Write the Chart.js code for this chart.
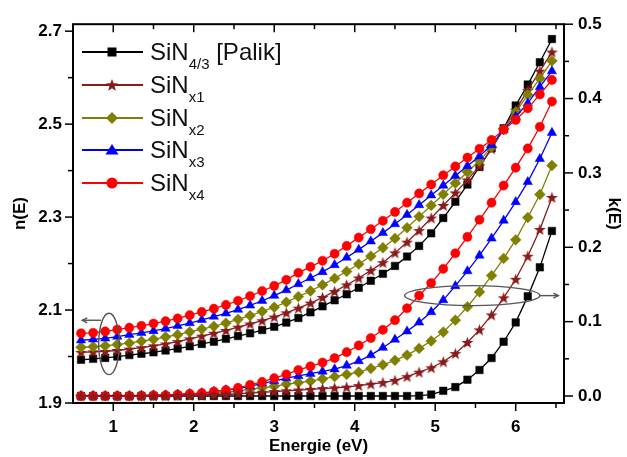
<!DOCTYPE html>
<html>
<head>
<meta charset="utf-8">
<script src="https://cdn.jsdelivr.net/npm/chart.js@4.4.1/dist/chart.umd.min.js"></script>
<style>
  html, body { margin: 0; padding: 0; background: #fff; }
  #wrap { position: relative; width: 627px; height: 457px; }
  #legend { position: absolute; left: 82px; top: 42px; font-family: "Liberation Sans", Arial, sans-serif; color: #111; }
  .row { position: absolute; left: 0; height: 24px; width: 260px; }
  .row svg { position: absolute; left: 0; top: 0; }
  .row .txt { position: absolute; left: 68px; top: -2px; font-size: 24px; line-height: 24px; white-space: pre; }
  .row .txt sub { font-size: 15px; vertical-align: -9px; line-height: 0; }
</style>
</head>
<body>
<div id="wrap">
  <canvas id="c" width="627" height="457"></canvas>
  <div id="legend"></div>
</div>
<script>
// ---------------- data ----------------
const energy = [0.6,0.75,0.9,1.05,1.2,1.35,1.5,1.65,1.8,1.95,2.1,2.25,2.4,2.55,2.7,2.85,3.0,3.15,3.3,3.45,3.6,3.75,3.9,4.05,4.2,4.35,4.5,4.65,4.8,4.95,5.1,5.25,5.4,5.55,5.7,5.85,6.0,6.15,6.3,6.45];

const nPalik = [1.993,1.995,1.997,2.000,2.003,2.006,2.009,2.013,2.017,2.022,2.027,2.032,2.038,2.044,2.050,2.057,2.064,2.073,2.083,2.095,2.108,2.121,2.134,2.148,2.163,2.178,2.195,2.215,2.238,2.265,2.298,2.333,2.370,2.408,2.448,2.491,2.540,2.585,2.633,2.683];
const nX1 = [2.009,2.010,2.011,2.013,2.016,2.019,2.023,2.027,2.032,2.038,2.044,2.050,2.056,2.063,2.070,2.077,2.085,2.094,2.104,2.115,2.127,2.140,2.154,2.169,2.185,2.202,2.223,2.246,2.271,2.298,2.325,2.352,2.380,2.410,2.447,2.489,2.530,2.573,2.614,2.655];
const nX2 = [2.020,2.021,2.023,2.026,2.029,2.033,2.037,2.042,2.047,2.053,2.059,2.065,2.072,2.080,2.088,2.097,2.106,2.117,2.129,2.141,2.154,2.168,2.183,2.199,2.216,2.234,2.254,2.277,2.301,2.325,2.349,2.373,2.397,2.421,2.451,2.489,2.526,2.563,2.598,2.636];
const nX3 = [2.035,2.037,2.039,2.043,2.047,2.051,2.055,2.060,2.066,2.072,2.079,2.086,2.093,2.101,2.110,2.120,2.131,2.143,2.156,2.169,2.182,2.197,2.213,2.230,2.248,2.266,2.285,2.305,2.326,2.347,2.368,2.389,2.410,2.431,2.455,2.488,2.516,2.545,2.580,2.614];
const nX4 = [2.050,2.051,2.054,2.058,2.062,2.066,2.071,2.076,2.082,2.089,2.096,2.103,2.111,2.120,2.130,2.141,2.152,2.165,2.180,2.193,2.206,2.221,2.238,2.256,2.274,2.292,2.311,2.331,2.351,2.370,2.390,2.409,2.428,2.447,2.466,2.488,2.509,2.534,2.564,2.595];

const kPalik = [0,0,0,0,0,0,0,0,0,0,0,0,0,0,0,0,0,0,0,0,0,0,0,0,0,0,0,0,0.0005,0.002,0.007,0.012,0.022,0.035,0.051,0.073,0.099,0.134,0.173,0.222];
const kX1 = [0,0,0,0,0,0,0,0,0.0005,0.001,0.001,0.002,0.002,0.003,0.004,0.005,0.006,0.007,0.008,0.009,0.010,0.011,0.012,0.014,0.016,0.018,0.021,0.026,0.032,0.038,0.046,0.057,0.072,0.089,0.109,0.132,0.157,0.188,0.224,0.267];
const kX2 = [0,0,0,0,0,0,0.0005,0.001,0.001,0.002,0.003,0.004,0.005,0.007,0.009,0.011,0.013,0.016,0.018,0.020,0.023,0.026,0.029,0.032,0.037,0.042,0.048,0.055,0.064,0.074,0.086,0.102,0.120,0.140,0.162,0.185,0.210,0.240,0.271,0.310];
const kX3 = [0,0,0,0,0,0.0005,0.001,0.001,0.002,0.003,0.004,0.006,0.008,0.010,0.013,0.017,0.020,0.024,0.027,0.030,0.033,0.036,0.041,0.047,0.055,0.065,0.076,0.087,0.099,0.113,0.129,0.148,0.168,0.189,0.212,0.236,0.261,0.288,0.319,0.354];
const kX4 = [0,0,0,0,0,0.0005,0.001,0.001,0.002,0.003,0.004,0.006,0.008,0.011,0.015,0.019,0.024,0.029,0.035,0.040,0.045,0.051,0.059,0.068,0.078,0.089,0.102,0.118,0.135,0.152,0.171,0.192,0.214,0.237,0.260,0.283,0.307,0.333,0.362,0.396];

const seriesNames = ['SiN4/3 [Palik]','SiNx1','SiNx2','SiNx3','SiNx4'];
const labelBase = 'SiN';
const labelSub = ['4/3','x1','x2','x3','x4'];
const labelSuffix = [' [Palik]','','','',''];

const xTickValues = [1,2,3,4,5,6];
const xTickLabels = ['1','2','3','4','5','6'];
const xMinorValues = [1.5,2.5,3.5,4.5,5.5,6.5];
const nTickValues = [1.9,2.1,2.3,2.5,2.7];
const nTickLabels = ['1.9','2.1','2.3','2.5','2.7'];
const nMinorValues = [2.0,2.2,2.4,2.6];
const kTickValues = [0,0.1,0.2,0.3,0.4,0.5];
const kTickLabels = ['0.0','0.1','0.2','0.3','0.4','0.5'];
const kMinorValues = [0.05,0.15,0.25,0.35,0.45];

// ---------------- styles ----------------
const FONT = '"Liberation Sans", Arial, sans-serif';
const colors = ['#000000','#8B1A1A','#808000','#0000FF','#FF0000'];

function starCanvas(color, R) {
  const c = document.createElement('canvas');
  const s = Math.ceil(R * 2) + 2;
  c.width = s; c.height = s;
  const g = c.getContext('2d');
  g.translate(s / 2, s / 2 + 0.5);
  g.beginPath();
  for (let i = 0; i < 10; i++) {
    const r = i % 2 === 0 ? R : R * 0.42;
    const a = -Math.PI / 2 + i * Math.PI / 5;
    const px = r * Math.cos(a), py = r * Math.sin(a);
    if (i === 0) g.moveTo(px, py); else g.lineTo(px, py);
  }
  g.closePath();
  g.fillStyle = color; g.fill();
  return c;
}
const star = starCanvas(colors[1], 6.2);
const pointStyles = ['rect', star, 'rectRot', 'triangle', 'circle'];
const pointRadii = [5.3, 6, 5.4, 5.4, 4.6];

function mk(vals, i, axis, ord) {
  return {
    label: seriesNames[i] + (axis === 'y' ? ' n(E)' : ' k(E)'),
    data: energy.map((e, j) => ({ x: e, y: vals[j] })),
    yAxisID: axis,
    borderColor: colors[i],
    backgroundColor: colors[i],
    borderWidth: 1.3,
    pointStyle: pointStyles[i],
    pointRadius: pointRadii[i],
    pointBorderWidth: 0.5,
    pointBorderColor: colors[i],
    pointBackgroundColor: colors[i],
    tension: 0,
    fill: false,
    order: ord
  };
}
const datasets = [
  mk(nPalik, 0, 'y', 5), mk(nX1, 1, 'y', 4), mk(nX2, 2, 'y', 3), mk(nX3, 3, 'y', 2), mk(nX4, 4, 'y', 1),
  mk(kPalik, 0, 'y1', 5), mk(kX1, 1, 'y1', 1), mk(kX2, 2, 'y1', 4), mk(kX3, 3, 'y1', 3), mk(kX4, 4, 'y1', 2)
];

// annotations (data coordinates)
const nEllipse = { cx: 0.947, cy: 2.027, rx: 0.128, ry: 0.066, axis: 'y' };
const nArrow = { x0: 0.85, x1: 0.615, y: 2.078, axis: 'y' };
const kEllipse = { cx: 5.46, cy: 0.135, rx: 0.84, ry: 0.0134, axis: 'y1' };
const kArrow = { x0: 6.30, x1: 6.53, y: 0.135, axis: 'y1' };

const decor = {
  id: 'decor',
  afterDatasetsDraw(chart) {
    const { ctx, scales } = chart;
    const X = scales.x;
    ctx.save();
    ctx.strokeStyle = '#555';
    ctx.lineWidth = 1.4;
    [nEllipse, kEllipse].forEach(el => {
      const Y = scales[el.axis];
      const cx = X.getPixelForValue(el.cx), cy = Y.getPixelForValue(el.cy);
      const rx = Math.abs(X.getPixelForValue(el.cx + el.rx) - cx);
      const ry = Math.abs(Y.getPixelForValue(el.cy + el.ry) - cy);
      ctx.beginPath(); ctx.ellipse(cx, cy, rx, ry, 0, 0, Math.PI * 2); ctx.stroke();
    });
    [nArrow, kArrow].forEach(ar => {
      const Y = scales[ar.axis];
      const x0 = X.getPixelForValue(ar.x0), x1 = X.getPixelForValue(ar.x1), y = Y.getPixelForValue(ar.y);
      const d = Math.sign(x1 - x0);
      ctx.beginPath(); ctx.moveTo(x0, y); ctx.lineTo(x1, y); ctx.stroke();
      ctx.beginPath(); ctx.moveTo(x1 - d * 5, y - 2.5); ctx.lineTo(x1, y); ctx.lineTo(x1 - d * 5, y + 2.5); ctx.stroke();
    });
    ctx.restore();
  },
  afterDraw(chart) {
    const { ctx, chartArea: a, scales } = chart;
    const X = scales.x, Y = scales.y, Y1 = scales.y1;
    ctx.save();
    ctx.strokeStyle = '#000';
    ctx.lineWidth = 1.5;
    const line = (x1, y1, x2, y2) => { ctx.beginPath(); ctx.moveTo(x1, y1); ctx.lineTo(x2, y2); ctx.stroke(); };
    xTickValues.forEach(v => { const p = X.getPixelForValue(v); line(p, a.bottom, p, a.bottom + 8); line(p, a.top, p, a.top + 8); });
    xMinorValues.forEach(v => { const p = X.getPixelForValue(v); line(p, a.bottom, p, a.bottom + 5); line(p, a.top, p, a.top + 5); });
    nTickValues.forEach(v => { const p = Y.getPixelForValue(v); line(a.left - 8, p, a.left, p); });
    nMinorValues.forEach(v => { const p = Y.getPixelForValue(v); line(a.left - 5, p, a.left, p); });
    kTickValues.forEach(v => { const p = Y1.getPixelForValue(v); line(a.right, p, a.right + 9, p); });
    kMinorValues.forEach(v => { const p = Y1.getPixelForValue(v); line(a.right, p, a.right + 5, p); });
    ctx.lineWidth = 2;
    ctx.strokeRect(a.left, a.top, a.right - a.left, a.bottom - a.top);
    ctx.restore();
  }
};

const tickFont = { family: FONT, size: 17, weight: 'bold' };
const titleFont = { family: FONT, size: 17, weight: 'bold' };

new Chart(document.getElementById('c'), {
  type: 'line',
  data: { datasets },
  options: {
    responsive: false,
    animation: false,
    events: [],
    layout: { padding: { top: 23, left: 0, right: 0, bottom: 0 } },
    plugins: { legend: { display: false }, tooltip: { enabled: false } },
    scales: {
      x: {
        type: 'linear', position: 'bottom', min: 0.5, max: 6.6,
        grid: { display: false, drawTicks: false }, border: { display: false },
        afterBuildTicks: s => { s.ticks = xTickValues.map(v => ({ value: v })); },
        ticks: { padding: 14, color: '#000', font: tickFont, maxRotation: 0,
          callback: v => { const i = xTickValues.findIndex(t => Math.abs(t - v) < 1e-6); return i >= 0 ? xTickLabels[i] : ''; } },
        title: { display: true, text: 'Energie (eV)', color: '#000', font: titleFont, padding: { top: 0, bottom: 0 } },
        afterFit: s => { s.height = 54; }
      },
      y: {
        type: 'linear', position: 'left', min: 1.9, max: 2.715,
        grid: { display: false, drawTicks: false }, border: { display: false },
        afterBuildTicks: s => { s.ticks = nTickValues.map(v => ({ value: v })); },
        ticks: { padding: 11, color: '#000', font: tickFont,
          callback: v => { const i = nTickValues.findIndex(t => Math.abs(t - v) < 1e-6); return i >= 0 ? nTickLabels[i] : ''; } },
        title: { display: true, text: 'n(E)', color: '#000', font: titleFont, padding: { top: 10, bottom: 0 } },
        afterFit: s => { s.width = 73; }
      },
      y1: {
        type: 'linear', position: 'right', min: -0.0094, max: 0.5,
        grid: { display: false, drawTicks: false }, border: { display: false },
        afterBuildTicks: s => { s.ticks = kTickValues.map(v => ({ value: v })); },
        ticks: { padding: 14, color: '#000', font: tickFont,
          callback: v => { const i = kTickValues.findIndex(t => Math.abs(t - v) < 1e-6); return i >= 0 ? kTickLabels[i] : ''; } },
        title: { display: true, text: 'k(E)', color: '#000', font: titleFont, padding: { top: 3, bottom: 0 } },
        afterFit: s => { s.width = 63; }
      }
    }
  },
  plugins: [decor]
});

// ---------------- HTML legend (real text with subscripts) ----------------
function symbolSVG(i) {
  const c = colors[i];
  let m = '';
  if (i === 0) m = `<rect x="25.5" y="5.5" width="9" height="9" fill="${c}"/>`;
  else if (i === 1) {
    const pts = [];
    for (let k = 0; k < 10; k++) { const r = k % 2 === 0 ? 6.5 : 2.7; const a = -Math.PI / 2 + k * Math.PI / 5; pts.push((30 + r * Math.cos(a)).toFixed(2) + ',' + (10.5 + r * Math.sin(a)).toFixed(2)); }
    m = `<polygon points="${pts.join(' ')}" fill="${c}"/>`;
  }
  else if (i === 2) m = `<polygon points="30,4 36,10 30,16 24,10" fill="${c}"/>`;
  else if (i === 3) m = `<polygon points="30,4 36.5,14.5 23.5,14.5" fill="${c}"/>`;
  else m = `<circle cx="30" cy="10" r="5.5" fill="${c}"/>`;
  return `<svg width="62" height="20" viewBox="0 0 62 20"><line x1="0" y1="10" x2="61" y2="10" stroke="${c}" stroke-width="1.8"/>${m}</svg>`;
}
const leg = document.getElementById('legend');
labelSub.forEach((sub, i) => {
  const row = document.createElement('div');
  row.className = 'row';
  row.style.top = (i * 32.8) + 'px';
  row.innerHTML = symbolSVG(i) + `<span class="txt">${labelBase}<sub>${sub}</sub>${labelSuffix[i]}</span>`;
  leg.appendChild(row);
});
</script>
</body>
</html>
